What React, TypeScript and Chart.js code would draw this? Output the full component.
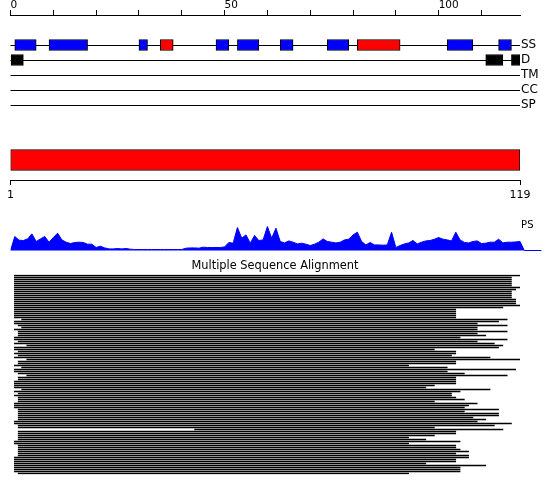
import React, { useEffect, useRef } from 'react';
import { Chart, registerables } from 'chart.js';

Chart.register(...registerables);

const FONT = 'DejaVu Sans';
const BLUE = '#0000ff';
const RED = '#ff0000';
const BLACK = '#000000';

// ---- data ----
const SEQ_LEN = 119;
const TOP_TICK_LABELS = [0, 50, 100];
const SEQ_TICKS = [1, 119];
const ROW_LABELS = ['SS', 'D', 'TM', 'CC', 'SP'];

// secondary structure segments (residue ranges)
const SS_BLUE = [[1, 6], [9, 18], [30, 32], [48, 51], [53, 58], [63, 66], [74, 79], [102, 108], [114, 117]];
const SS_RED = [[35, 38], [81, 91]];
// disorder segments
const DISORDER = [[0, 3], [111, 115], [117, 119]];

// profile score per residue 1..119
const PS_VALUES = [
  14, 10.3, 10, 11.6, 16.6, 9, 11.6, 14, 8.3, 13,
  17.3, 10.6, 8.3, 7, 8, 8.3, 8, 6.3, 6.3, 3,
  4.3, 2.6, 1.6, 1.6, 2, 1.6, 2, 1.3, 1, 1,
  1, 1, 1, 1, 1, 1, 1, 1, 1, 1,
  2.3, 2.6, 2.6, 2.3, 3.3, 3, 3, 3, 3, 3.6,
  8, 7.3, 23, 12.3, 15.6, 7.3, 15, 10, 10.6, 24,
  12.3, 22.3, 9, 7.6, 9.6, 8.3, 6.6, 7.3, 6.3, 5,
  6.3, 8.3, 11.6, 9, 8.3, 7.6, 8.3, 10.6, 11.3, 15.6,
  18.3, 9, 5.6, 8, 5.6, 5.6, 5.3, 5.6, 18.3, 3,
  5, 6.6, 7.6, 10, 6.6, 8.3, 9.6, 10, 11.3, 13,
  11.3, 10.6, 9.6, 18.3, 10.6, 8, 7.6, 9, 9.6, 7,
  7.3, 8.3, 8.3, 11.3, 7.6, 8.3, 8.3, 8.6, 9,
];
const PS_TAIL_END = 124;

// multiple sequence alignment: aligned span of each sequence
const MSA_START = [
  0.9, 0.9, 0.9, 0.9, 0.9, 0.9, 0.9, 0.9, 0.9, 0.9,
  0.9, 0.9, 0.9, 0.9, 0.9, 0.9, 0.9, 0.9, 0.9, 0.9,
  0.9, 0.9, 2.6, 0.9, 0.9, 1.8, 2.6, 0.9, 1.8, 1.8,
  1.8, 0.9, 0.9, 1.8, 0.9, 3.8, 0.9, 0.9, 1.8, 0.9,
  1.8, 0.9, 3.8, 1.8, 1.8, 0.9, 2.6, 0.9, 0.9, 1.8,
  3.8, 1.8, 1.8, 0.9, 0.9, 0.9, 0.9, 2.6, 0.9, 1.8,
  0.9, 1.8, 1.8, 1.8, 0.9, 0.9, 0.9, 1.8, 1.8, 1.8,
  1.8, 1.8, 1.8, 0.9, 0.9, 1.8, 1.8, 43, 1.8, 1.8,
  1.8, 1.8, 1.8, 0.9, 0.9, 1.8, 1.8, 1.8, 1.8, 1.8,
  1.8, 0.9, 0.9, 0.9, 0.9, 0.9, 0.9, 0.9, 0.9, 1.8,
];
const MSA_END = [
  119, 117, 117, 117, 117, 117, 119, 118, 117, 117,
  117, 117, 118, 118, 118, 119, 115, 104, 104, 104,
  104, 104, 116, 114, 109, 116, 109, 109, 116, 109,
  111, 105, 116, 109, 113, 115, 114, 99, 104, 104,
  103, 112, 119, 104, 104, 93, 102, 118, 102, 106,
  116, 104, 104, 104, 104, 99, 97, 112, 105, 103,
  103, 104, 106, 99, 109, 107, 106, 114, 106, 114,
  114, 108, 111, 109, 117, 113, 99, 115, 104, 104,
  99, 93, 97, 105, 93, 104, 104, 105, 107, 104,
  107, 107, 104, 104, 97, 111, 105, 105, 105, 93,
];

const base = {
  responsive: false,
  animation: false as const,
  events: [] as any[],
};
const noPlugins = { legend: { display: false }, tooltip: { enabled: false } };

function fixWidth(w: number) {
  return (s: any) => { s.width = w; s.paddingTop = 0; s.paddingBottom = 0; };
}

function featuresConfig(): any {
  return {
    type: 'bar',
    data: {
      datasets: [
        { data: SS_BLUE.map(([a, b]) => ({ x: [a, b], y: 0 })), backgroundColor: BLUE },
        { data: SS_RED.map(([a, b]) => ({ x: [a, b], y: 0 })), backgroundColor: RED },
        { data: DISORDER.map(([a, b]) => ({ x: [a, b], y: 1 })), backgroundColor: BLACK },
      ].map((d) => ({ ...d, borderColor: BLACK, borderWidth: 1, borderSkipped: false, barThickness: 11, grouped: false })),
    },
    options: {
      ...base,
      indexAxis: 'y',
      layout: { padding: { left: 10.5, right: 0, top: 0, bottom: 0 } },
      plugins: noPlugins,
      scales: {
        x: {
          type: 'linear', position: 'top', min: 0, max: SEQ_LEN,
          afterFit: (s: any) => { s.height = 15; s.paddingRight = 0; },
          grid: { drawOnChartArea: false, drawTicks: true, tickLength: 5, color: BLACK },
          border: { display: true, color: BLACK },
          ticks: {
            stepSize: 10, includeBounds: false, autoSkip: false, maxRotation: 0, align: 'start',
            padding: -1.8, color: BLACK, font: { family: FONT, size: 10.5 },
            callback: (v: number) => (TOP_TICK_LABELS.includes(v) ? String(v) : ''),
          },
        },
        y: {
          type: 'linear', position: 'right', min: -2, max: 5, reverse: true, offset: false,
          afterBuildTicks: (s: any) => { s.ticks = ROW_LABELS.map((_, i) => ({ value: i })); },
          afterFit: fixWidth(30),
          grid: { color: BLACK, drawTicks: false, tickLength: 0, offset: false },
          border: { display: false },
          ticks: { padding: 1, color: BLACK, font: { family: FONT, size: 12 }, callback: (v: number) => ROW_LABELS[v] ?? '' },
        },
      },
    },
  };
}

function sequenceConfig(): any {
  return {
    type: 'bar',
    data: {
      datasets: [{
        data: [{ x: [SEQ_TICKS[0], SEQ_LEN], y: 0.5 }],
        backgroundColor: RED, borderColor: BLACK, borderWidth: 1, borderSkipped: false, barThickness: 21,
      }],
    },
    options: {
      ...base,
      indexAxis: 'y',
      layout: { padding: { left: 10.5, right: 30, top: 0, bottom: 0 } },
      plugins: noPlugins,
      scales: {
        x: {
          type: 'linear', position: 'bottom', min: SEQ_TICKS[0], max: SEQ_LEN,
          afterBuildTicks: (s: any) => { s.ticks = SEQ_TICKS.map((v) => ({ value: v })); },
          afterFit: (s: any) => { s.height = 30; },
          grid: { drawOnChartArea: false, tickLength: 5, color: BLACK },
          border: { display: true, color: BLACK },
          ticks: { autoSkip: false, maxRotation: 0, padding: 3.7, color: BLACK, font: { family: FONT, size: 11 } },
        },
        y: { type: 'linear', display: false, min: 0, max: 1, offset: false },
      },
    },
  };
}

function profileConfig(): any {
  const pts = [{ x: 0, y: 0 }, ...PS_VALUES.map((v, i) => ({ x: i + 1, y: v })), { x: SEQ_LEN + 1, y: 0 }, { x: PS_TAIL_END, y: 0 }];
  return {
    type: 'line',
    data: {
      datasets: [{
        data: pts, borderColor: BLUE, backgroundColor: BLUE, borderWidth: 1,
        pointRadius: 0, fill: 'origin', tension: 0,
      }],
    },
    options: {
      ...base,
      layout: { padding: { left: 10.5, right: 0, top: 13, bottom: 0 } },
      plugins: noPlugins,
      scales: {
        x: { type: 'linear', display: false, min: 0, max: 126 },
        y: {
          type: 'linear', position: 'right', min: -0.5, max: 25.5,
          afterBuildTicks: (s: any) => { s.ticks = [{ value: 25 }]; },
          afterFit: fixWidth(0),
          grid: { display: false, drawTicks: false },
          border: { display: false },
          ticks: { mirror: true, padding: -16.5, color: BLACK, font: { family: FONT, size: 10 }, callback: () => 'PS' },
        },
      },
    },
  };
}

function msaConfig(): any {
  return {
    type: 'bar',
    data: {
      datasets: [{
        data: MSA_END.map((e, i) => ({ x: [MSA_START[i], e], y: i })),
        backgroundColor: BLACK, borderWidth: 0, barThickness: 1,
      }],
    },
    options: {
      ...base,
      indexAxis: 'y',
      layout: { padding: { left: 0, right: 0, top: 0, bottom: 0.5 } },
      plugins: {
        ...noPlugins,
        title: {
          display: true, text: 'Multiple Sequence Alignment', color: BLACK,
          font: { family: FONT, size: 11.4, weight: 'normal' }, padding: { top: 4.16, bottom: 1.66 },
        },
      },
      scales: {
        x: { type: 'linear', display: false, min: 0, max: SEQ_LEN },
        y: {
          type: 'linear', position: 'left', min: -0.5, max: MSA_END.length - 0.5, reverse: true, offset: false,
          afterFit: fixWidth(10.5),
          grid: { display: false, offset: false }, border: { display: false }, ticks: { display: false },
        },
        yR: {
          type: 'linear', position: 'right',
          afterFit: fixWidth(30),
          grid: { display: false }, border: { display: false }, ticks: { display: false },
        },
      },
    },
  };
}

const PANELS = [
  { top: 0, height: 120, make: featuresConfig },
  { top: 140, height: 70, make: sequenceConfig },
  { top: 212, height: 39, make: profileConfig },
  { top: 255, height: 220, make: msaConfig },
];

export default function App() {
  const refs = useRef<(HTMLCanvasElement | null)[]>([]);
  useEffect(() => {
    Chart.defaults.font.family = FONT;
    const charts = PANELS.map((p, i) => new Chart(refs.current[i] as HTMLCanvasElement, p.make()));
    return () => charts.forEach((c) => c.destroy());
  }, []);
  return (
    <div style={{ position: 'absolute', left: 0, top: 0, width: 550, height: 495, background: '#fff' }}>
      {PANELS.map((p, i) => (
        <div key={i} style={{ position: 'absolute', left: 0, top: p.top, width: 550, height: p.height }}>
          <canvas
            ref={(el) => { refs.current[i] = el; }}
            width={550}
            height={p.height}
            style={{ display: 'block', width: 550, height: p.height }}
          />
        </div>
      ))}
    </div>
  );
}
